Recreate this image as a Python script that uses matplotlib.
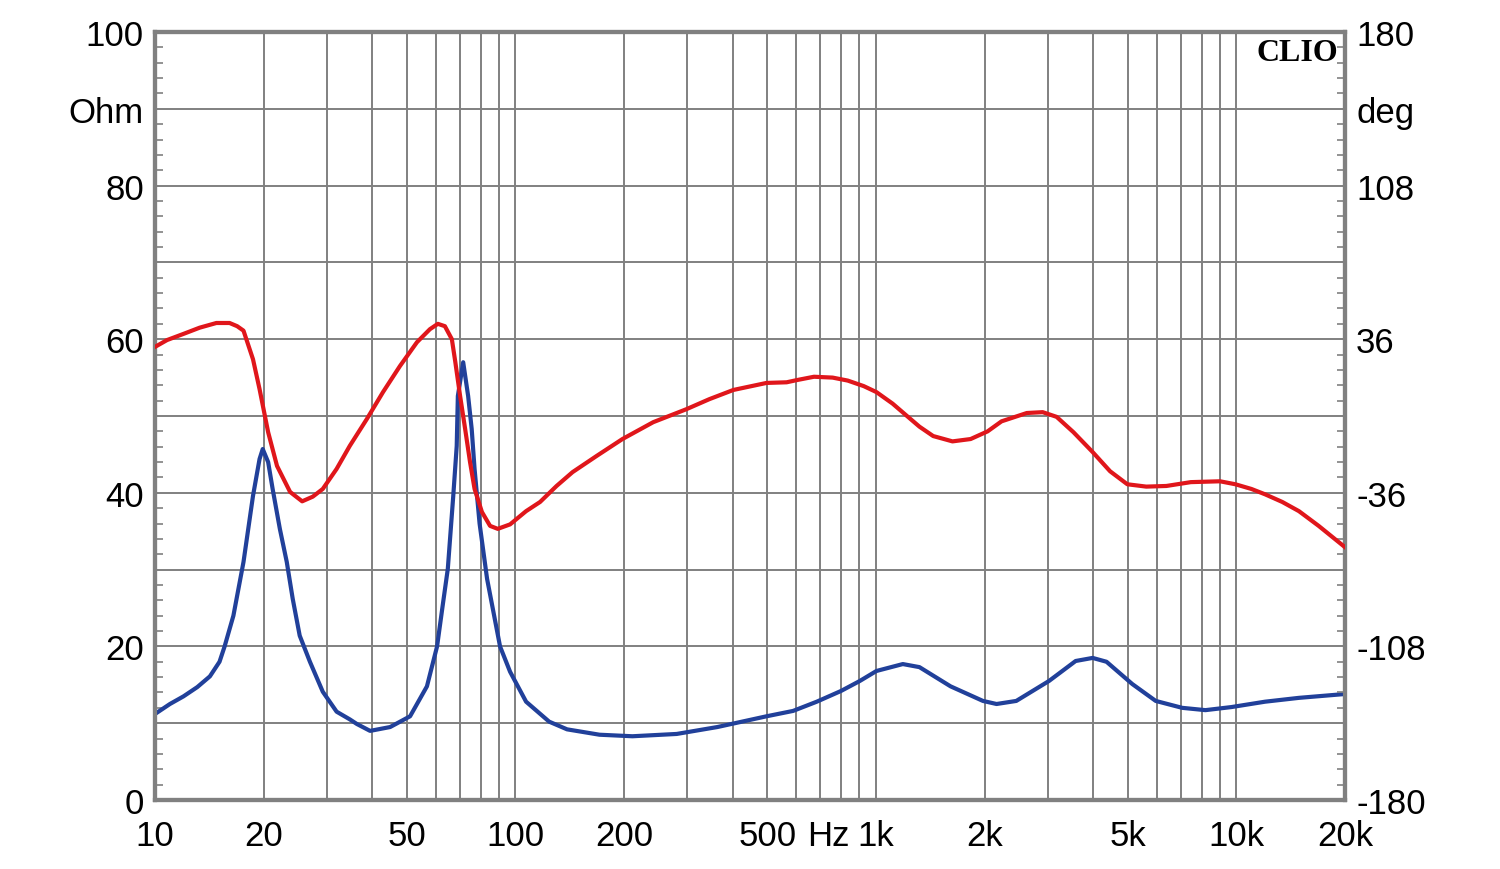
import matplotlib.pyplot as plt

# impedance magnitude (Ohm), blue
imp_freq = [10, 11.0, 12.0, 13.1, 14.2, 15.1, 15.6, 16.5, 17.6, 18.7, 19.5, 19.9,
            20.6, 21.2, 22.2, 23.2, 24.1, 25.2, 26.9, 29.2, 31.9, 34.7, 36.3, 39.5,
            44.9, 51.0, 56.8, 60.6, 62.8, 64.9, 67.2, 68.7, 69.2, 71.6, 73.9, 75.6,
            77.0, 79.5, 83.4, 90.6, 96.6, 107, 124, 139, 171, 211, 280, 363, 497,
            589, 685, 800, 902, 1003, 1187, 1320, 1610, 1980, 2160, 2450, 3020,
            3580, 3990, 4360, 5140, 5970, 7070, 8200, 9680, 12000, 14900, 20000]
imp_ohm = [11.2, 12.5, 13.5, 14.7, 16.1, 18.0, 20.0, 24.0, 31.0, 39.6, 44.4, 45.7,
           44.0, 40.5, 35.3, 31.0, 26.2, 21.4, 18.0, 14.1, 11.5, 10.5, 9.9, 9.0,
           9.5, 10.9, 14.8, 20.0, 25.3, 30.1, 39.6, 46.1, 52.6, 57.0, 52.6, 48.3,
           43.1, 36.0, 28.8, 20.0, 16.7, 12.8, 10.2, 9.2, 8.5, 8.3, 8.6, 9.5, 10.9,
           11.6, 12.8, 14.2, 15.5, 16.8, 17.7, 17.3, 14.8, 12.9, 12.5, 12.9, 15.5,
           18.1, 18.5, 18.0, 15.1, 12.9, 12.0, 11.7, 12.1, 12.8, 13.3, 13.8]

# phase (deg), red
ph_freq = [10, 10.8, 12.0, 13.3, 14.8, 16.1, 16.9, 17.6, 18.7, 19.5, 20.6, 21.8,
           23.7, 25.6, 27.4, 29.2, 31.9, 34.7, 38.7, 42.9, 47.8, 53.3, 57.9, 60.9,
           63.7, 66.6, 68.1, 70.2, 72.5, 74.8, 77.0, 80.7, 85.0, 89.3, 96.6, 107,
           117, 130, 144, 168, 198, 241, 298, 345, 402, 497, 565, 606, 673, 758,
           835, 925, 1003, 1112, 1219, 1320, 1441, 1630, 1830, 2040, 2230, 2620,
           2900, 3170, 3530, 3990, 4460, 4980, 5620, 6390, 7470, 9000, 9930,
           11000, 12000, 13400, 14900, 16900, 20000]
ph_deg = [32.4, 35.6, 38.5, 41.4, 43.6, 43.6, 42.1, 40.0, 26.6, 12.6, -7.6, -23.4,
          -35.6, -40.0, -37.8, -34.2, -24.8, -14.0, -1.4, 11.2, 23.4, 34.6, 40.7, 43.2,
          42.1, 36.0, 25.2, 9.4, -6.1, -21.6, -34.2, -45.0, -51.5, -52.9, -50.8, -44.6,
          -40.3, -32.8, -26.3, -18.7, -10.8, -2.9, 3.2, 7.9, 12.2, 15.5, 15.8, 16.9,
          18.4, 18.0, 16.6, 14.0, 11.2, 5.8, 0.0, -5.0, -9.4, -11.9, -10.8, -7.2,
          -2.5, 1.4, 1.8, -0.4, -7.6, -16.9, -25.9, -32.0, -33.1, -32.8, -31.0,
          -30.6, -32.0, -34.2, -36.7, -40.3, -44.6, -51.5, -61.5]

x_ticks = [10, 20, 50, 100, 200, 500, 740, 1000, 2000, 5000, 10000, 20000]
x_labels = ['10', '20', '50', '100', '200', '500', 'Hz', '1k', '2k', '5k', '10k', '20k']
left_ticks = [0, 20, 40, 60, 80, 90, 100]
left_labels = ['0', '20', '40', '60', '80', 'Ohm', '100']
right_ticks = [-180, -108, -36, 36, 108, 144, 180]
right_labels = ['-180', '-108', '-36', '36', '108', 'deg', '180']

plt.rcParams['font.family'] = ['Liberation Sans', 'DejaVu Sans']
gray = '#808080'

fig = plt.figure(figsize=(15, 8.7), dpi=100)
ax = fig.add_axes([155/1500, 69/870, 1190/1500, 768/870])
ax.set_xscale('log')
ax.set_xlim(10, 20000)
ax.set_ylim(0, 100)

# grid
for dec in [10, 100, 1000, 10000]:
    for m in range(1, 10):
        f = dec * m
        if 10 < f < 20000:
            ax.axvline(f, color=gray, lw=1.4, zorder=1)
for v in range(10, 100, 10):
    ax.axhline(v, color=gray, lw=1.4, zorder=1)

ax.plot(imp_freq, imp_ohm, color='#21409a', lw=3, zorder=3,
        solid_joinstyle='round')

ax.set_xticks(x_ticks)
ax.set_xticklabels(x_labels)
ax.xaxis.set_minor_locator(plt.NullLocator())
ax.tick_params(axis='x', length=0, pad=14, labelsize=25)
ax.set_yticks(left_ticks)
ax.set_yticklabels(left_labels)
ax.set_yticks([v for v in range(2, 100, 2) if v % 10], minor=True)
ax.tick_params(axis='y', which='major', length=0, pad=8, labelsize=25)
ax.tick_params(axis='y', which='minor', direction='in', length=6, width=1.2, color=gray)

ax2 = ax.twinx()
ax2.set_ylim(-180, 180)
ax2.plot(ph_freq, ph_deg, color='#e0161b', lw=3, zorder=4,
         solid_joinstyle='round')
ax2.set_yticks(right_ticks)
ax2.set_yticklabels(right_labels)
ax2.set_yticks([-180 + 7.2 * k for k in range(1, 50) if k % 5], minor=True)
ax2.tick_params(axis='y', which='major', length=0, pad=8, labelsize=25)
ax2.tick_params(axis='y', which='minor', direction='in', length=6, width=1.2, color=gray)

for a in (ax, ax2):
    for s in a.spines.values():
        s.set_color(gray)
        s.set_linewidth(3)

ax2.text(0.994, 0.992, 'CLIO', transform=ax2.transAxes, ha='right', va='top',
         fontsize=23, fontweight='bold', family='Liberation Serif', zorder=5)

fig.savefig('out.png', dpi=100)
